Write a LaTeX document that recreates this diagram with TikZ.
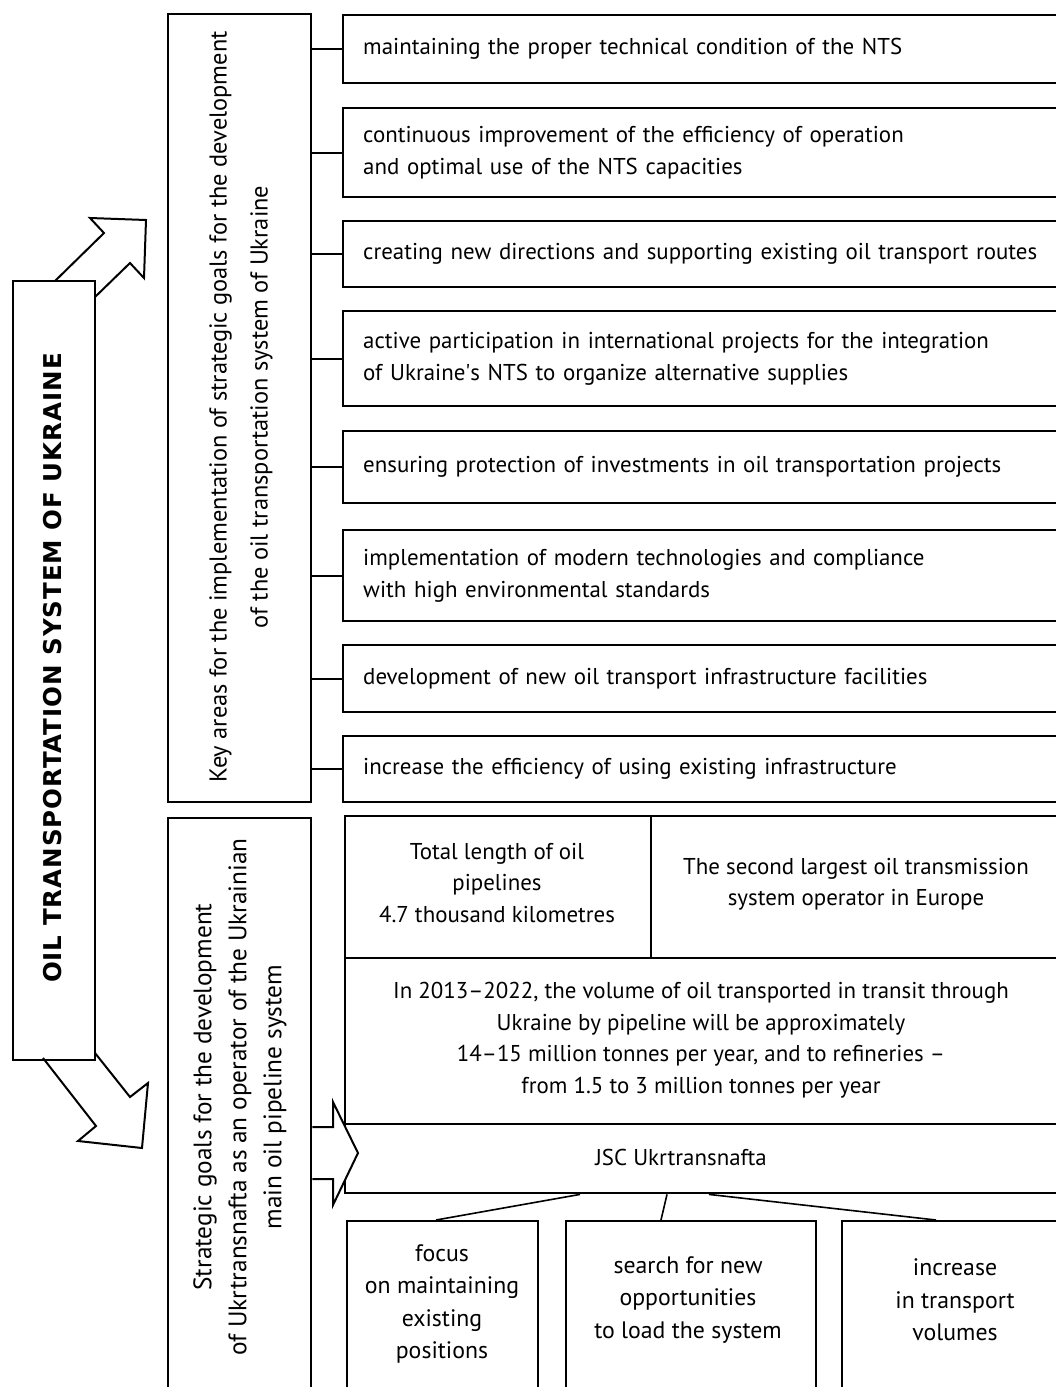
\documentclass[tikz,border=0pt]{standalone}
\usepackage{fontspec}
\setmainfont{PT Sans}
\newfontfamily\titlefont{DejaVu Sans}
\begin{document}
\begin{tikzpicture}[x=1pt,y=-1pt,line width=2.4pt,line join=miter,
  fs/.style={font=\fontsize{22.9}{31.5}\selectfont},
  box/.style={draw,line width=2.4pt,rectangle,anchor=north west,inner sep=0pt},
  rbox/.style={box,fs,minimum width=730pt,text width=690pt,inner xsep=20pt,align=left},
  cbox/.style={box,fs,align=center},
  lbl/.style={fs,align=center,inner sep=0pt},
  rlbl/.style={align=center,inner sep=0pt,rotate=90},
  conn/.style={line width=1.6pt},
  arr/.style={draw,line width=2pt,fill=white,line join=miter}]
\useasboundingbox (0,0) rectangle (1055,1387);

% upper-left arrow
\draw[arr] (55,281) -- (104,233) -- (90,218) -- (146,220) -- (144,278) -- (130,263) -- (95,297);
% lower-left arrow
\draw[arr] (43,1058) -- (96,1126) -- (78,1141) -- (142,1148) -- (148,1083) -- (130,1097) -- (95,1053);

% left big box
\node[box,minimum width=82pt,minimum height=779pt] (sys) at (12,280) {};
\node[inner sep=0pt,rotate=90,font=\titlefont\fontsize{24.5}{31}\selectfont\bfseries\addfontfeature{LetterSpace=4}] (systxt) at (53,668) {OIL TRANSPORTATION SYSTEM OF UKRAINE};

% key areas box
\node[box,minimum width=143pt,minimum height=788pt] (key) at (167,13) {};
\node[rlbl,font=\fontsize{24.4}{41}\selectfont] (keytxt) at (241,407) {Key areas for the implementation of strategic goals for the development\\of the oil transportation system of Ukraine};

% strategic goals box
\node[box,minimum width=143pt,minimum height=600pt] (str) at (167,817) {};
\node[rlbl,font=\fontsize{25.3}{35}\selectfont] (strtxt) at (240,1097) {Strategic goals for the development\\of Ukrtransnafta as an operator of the Ukrainian\\main oil pipeline system};

% right boxes
\node[rbox,minimum height=68pt] (r1) at (342,14) {maintaining the proper technical condition of the NTS};
\node[rbox,minimum height=89pt] (r2) at (342,107) {continuous improvement of the efficiency of operation\\and optimal use of the NTS capacities};
\node[rbox,minimum height=66pt] (r3) at (342,220) {creating new directions and supporting existing oil transport routes};
\node[rbox,minimum height=95pt] (r4) at (342,310) {active participation in international projects for the integration\\of Ukraine\textquotesingle s NTS to organize alternative supplies};
\node[rbox,minimum height=72pt] (r5) at (342,430) {ensuring protection of investments in oil transportation projects};
\node[rbox,minimum height=91pt] (r6) at (342,529) {implementation of modern technologies and compliance\\with high environmental standards};
\node[rbox,minimum height=67pt] (r7) at (342,644) {development of new oil transport infrastructure facilities};
\node[rbox,minimum height=66pt] (r8) at (342,735) {increase the efficiency of using existing infrastructure};

\foreach \r in {r1,r2,r3,r4,r5,r6,r7,r8}
  \draw[conn] (key.east |- \r.west) -- (\r.west);

% stat block
\node[cbox,minimum width=306pt,minimum height=142pt] (s1) at (344,815) {};
\node[lbl] (s1t) at (497,883) {Total length of oil\\pipelines\\4.7 thousand kilometres};
\node[cbox,minimum width=420pt,minimum height=142pt] (s2) at (650,815) {};
\node[lbl] (s2t) at (856,884) {The second largest oil transmission\\system operator in Europe};
\node[cbox,minimum width=726pt,minimum height=166pt] (s3) at (344,957) {};
\node[lbl] (s3t) at (701,1040) {In 2013--2022, the volume of oil transported in transit through\\Ukraine by pipeline will be approximately\\14--15 million tonnes per year, and to refineries --\\from 1.5 to 3 million tonnes per year};
\node[cbox,minimum width=726pt,minimum height=69pt] (jsc) at (344,1123) {};
\node[lbl] (jsct) at (681,1157) {JSC Ukrtransnafta};

% bottom boxes
\node[cbox,minimum width=191pt,minimum height=200pt] (b1) at (346,1220) {};
\node[lbl,font=\fontsize{23.8}{32.5}\selectfont] (b1t) at (442,1304) {focus\\on maintaining\\existing\\positions};
\node[cbox,minimum width=250pt,minimum height=200pt] (b2) at (565,1220) {};
\node[lbl,font=\fontsize{23.8}{32.5}\selectfont] (b2t) at (688,1300) {search for new\\opportunities\\to load the system};
\node[cbox,minimum width=229pt,minimum height=200pt] (b3) at (841,1220) {};
\node[lbl,font=\fontsize{23.8}{32.5}\selectfont] (b3t) at (955,1300) {increase\\in transport\\volumes};

\draw[conn] ([xshift=236pt]jsc.south west) -- ([xshift=90pt]b1.north west);
\draw[conn] ([xshift=323pt]jsc.south west) -- ([xshift=96pt]b2.north west);
\draw[conn] ([xshift=365pt]jsc.south west) -- ([xshift=95pt]b3.north west);

% arrow into JSC
\draw[arr] (str.east |- 0,1127) -- (333,1127) -- (333,1102) -- (358,1153) -- (333,1205) -- (333,1179) -- (str.east |- 0,1179);
\end{tikzpicture}
\end{document}
